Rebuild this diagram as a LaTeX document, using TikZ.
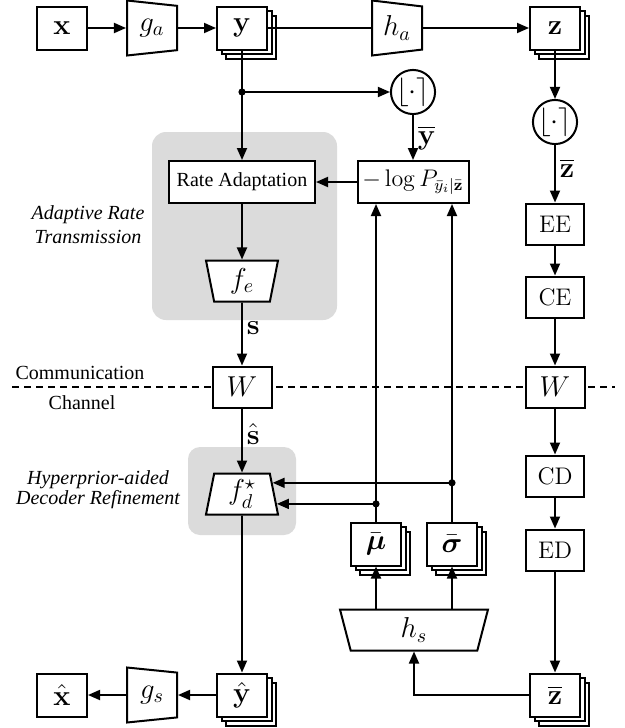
\documentclass[tikz,border=0pt]{standalone}
\usepackage{amsmath,amssymb}
\usepackage[no-math]{fontspec}
\setmainfont{Liberation Serif}
\usetikzlibrary{calc,shapes.geometric,shadows,arrows.meta}

\tikzset{
  blk/.style={draw, line width=1pt, fill=white, minimum width=25pt, minimum height=21.5pt, inner sep=1pt, font=\Large},
  stk/.style={blk,
    general shadow={shadow xshift=4.5pt, shadow yshift=-4.5pt, draw, line width=1pt, fill=white},
    general shadow={shadow xshift=2.25pt, shadow yshift=-2.25pt, draw, line width=1pt, fill=white}},
  codec/.style={blk, font=\large, minimum width=29pt, minimum height=20.5pt},
  quant/.style={draw, circle, line width=1pt, fill=white, minimum size=20pt, inner sep=0pt, font=\Large},
  trap/.style={draw, line width=1pt, fill=white, trapezium, trapezium stretches body, inner sep=0pt, font=\Large},
  arr/.style={line width=0.9pt, -{Triangle[length=6pt,width=5pt]}},
  ln/.style={line width=0.9pt},
  lbl/.style={font=\Large, inner sep=2pt},
  grp/.style={fill=black!14, rounded corners=7pt},
  tag/.style={font=\itshape, align=center}
}

\begin{document}
\begin{tikzpicture}[x=0.5pt, y=-0.5pt]
\useasboundingbox (0,0) rectangle (625,728);

% shaded groups
\fill[grp] (152,132) rectangle (337,320);
\fill[grp, rounded corners=6pt] (188,447) rectangle (296,535);

% channel line
\coordinate (cl) at (12,387);
\coordinate (cr) at (615,387);
\draw[dash pattern=on 3.5pt off 2.5pt, line width=0.6pt] (cl) -- (cr);

% analysis / hyper analysis
\node[blk] (x) at (62,28) {$\mathbf{x}$};
\node[trap, shape border rotate=270, trapezium angle=78, minimum width=27.5pt, minimum height=25pt] (ga) at (152,28) {$g_a$};
\node[stk] (y) at (242,28) {$\mathbf{y}$};
\node[trap, shape border rotate=270, trapezium angle=78, minimum width=27.5pt, minimum height=25pt] (ha) at (397,28) {$h_a$};
\node[stk] (z) at (555,28) {$\mathbf{z}$};
\node[quant] (qy) at (413,92) {$\lfloor\cdot\rceil$};
\node[quant] (qz) at (555,122) {$\lfloor\cdot\rceil$};

% rate adaptation
\node[blk, font=\normalsize, minimum width=73pt, minimum height=21pt] (ra) at (242,182) {Rate Adaptation};
\node[blk, font=\large, minimum width=55.5pt, minimum height=21pt] (lp) at (413,182) {$-\log P_{\bar{y}_i|\bar{\mathbf{z}}}$};
\node[trap, trapezium angle=107.6, minimum width=36pt, minimum height=20.5pt] (fe) at (242,281) {$f_e$};

% channels
\node[blk, minimum width=29.5pt, minimum height=20.5pt] (wl) at (242,387) {$W$};
\node[codec] (ee) at (555,224) {$\mathrm{EE}$};
\node[codec] (ce) at (555,297) {$\mathrm{CE}$};
\node[blk, minimum width=29.5pt, minimum height=20.5pt] (wr) at (555,387) {$W$};
\node[codec] (cd) at (555,476) {$\mathrm{CD}$};
\node[codec] (ed) at (555,550) {$\mathrm{ED}$};

% decoder side
\node[trap, trapezium angle=73.7, minimum width=36pt, minimum height=20.5pt] (fd) at (242,494) {$f_d^{\star}$};
\node[stk] (mu) at (376,544) {$\bar{\boldsymbol{\mu}}$};
\node[stk] (sig) at (452,544) {$\bar{\boldsymbol{\sigma}}$};
\node[trap, trapezium angle=113.7, minimum width=74pt, minimum height=20.5pt] (hs) at (414,630) {$h_s$};
\node[stk] (yh) at (242,695) {$\hat{\mathbf{y}}$};
\node[trap, shape border rotate=270, trapezium angle=78, minimum width=27.5pt, minimum height=25pt] (gs) at (152,695) {$g_s$};
\node[blk] (xh) at (62,695) {$\hat{\mathbf{x}}$};
\node[stk] (zb) at (555,695) {$\overline{\mathbf{z}}$};

% side labels
\node[tag] (art) at (88,225) {Adaptive Rate\\Transmission};
\node[tag] (hdr) at (98,490) {Hyperprior-aided\\[-2pt]Decoder Refinement};
\node (comm) at (80,373) {Communication};
\node (chan) at (82,403) {Channel};

% main path
\draw[arr] (x) -- (ga);
\draw[arr] (ga) -- (y);
\draw[ln] (y) -- (ha);
\draw[arr] (ha) -- (z);
\coordinate (j) at (242,92);
\draw[ln] (y) -- (j);
\fill (j) circle (1.8pt);
\draw[arr] (j) -- (qy);
\draw[arr] (j) -- (ra);
\draw[arr] (qy) -- node[lbl, right] {$\overline{\mathbf{y}}$} (lp);
\draw[arr] (lp) -- (ra);
\draw[arr] (ra) -- (fe);
\draw[arr] (fe) -- node[lbl, right, pos=0.4] {$\mathbf{s}$} (wl);
\draw[arr] (wl) -- node[lbl, right, pos=0.4] {$\hat{\mathbf{s}}$} (fd);
\draw[arr] (fd) -- (yh);
\draw[arr] (yh) -- (gs);
\draw[arr] (gs) -- (xh);

% hyperprior path
\draw[arr] (z) -- (qz);
\draw[arr] (qz) -- node[lbl, right, pos=0.4] {$\overline{\mathbf{z}}$} (ee);
\draw[arr] (ee) -- (ce);
\draw[arr] (ce) -- (wr);
\draw[arr] (wr) -- (cd);
\draw[arr] (cd) -- (ed);
\draw[arr] (ed) -- (zb);
\draw[arr] (zb) -| (hs);
\draw[arr] (mu |- hs.north) -- (mu);
\draw[arr] (sig |- hs.north) -- (sig);
\draw[arr] (mu) -- (mu |- lp.south);
\draw[arr] (sig) -- (sig |- lp.south);

% side info into decoder
\coordinate (pmu) at ($(fd.bottom right corner)!0.27!(fd.top right corner)$);
\coordinate (psig) at ($(fd.bottom right corner)!0.76!(fd.top right corner)$);
\coordinate (dmu) at (mu |- pmu);
\coordinate (dsig) at (sig |- psig);
\draw[arr] (dmu) -- (pmu);
\draw[arr] (dsig) -- (psig);
\fill (dmu) circle (1.8pt);
\fill (dsig) circle (1.8pt);
\end{tikzpicture}
\end{document}
